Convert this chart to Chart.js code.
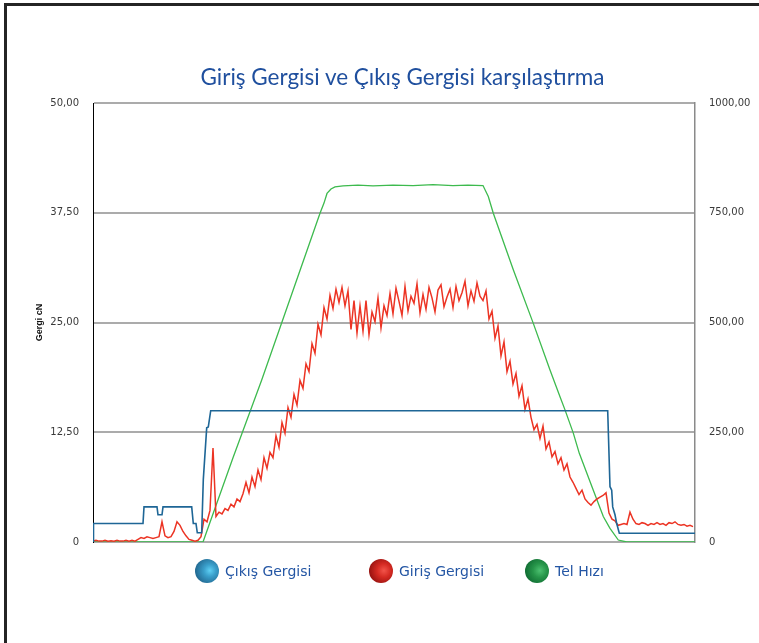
<!DOCTYPE html>
<html><head><meta charset="utf-8">
<script src="https://cdn.jsdelivr.net/npm/chart.js@4"></script>
<style>
html,body{margin:0;padding:0;background:#fff;width:759px;height:643px;overflow:hidden;}
#frame{position:absolute;left:4px;top:3px;width:900px;height:800px;border-left:3px solid #242424;border-top:3px solid #242424;}
#wrap{position:absolute;left:0;top:0;width:759px;height:643px;}
#title{position:absolute;left:0;width:805px;top:63px;height:28px;line-height:28px;text-align:center;font-family:Lato;font-size:22.5px;color:#1f4f9e;white-space:nowrap;}
.lg{position:absolute;top:559px;height:24px;line-height:24px;font-family:"DejaVu Sans";font-size:14px;color:#2456a4;white-space:nowrap;}
.sp{display:inline-block;width:24px;height:24px;border-radius:50%;vertical-align:top;margin-right:6px;}
</style></head><body>
<div id="frame"></div>
<div id="wrap"><canvas id="c" width="759" height="643"></canvas></div>
<div id="title">Giriş Gergisi ve Çıkış Gergisi karşılaştırma</div>
<div class="lg" style="left:195px"><span class="sp" style="background:radial-gradient(circle at 62% 48%,#5fd0f4 0%,#3aa0cc 30%,#256f98 70%,#1b5577 100%)"></span>Çıkış Gergisi</div>
<div class="lg" style="left:369px"><span class="sp" style="background:radial-gradient(circle at 62% 48%,#f2544a 0%,#d52a22 35%,#9e1512 72%,#6e0a09 100%)"></span>Giriş Gergisi</div>
<div class="lg" style="left:525px"><span class="sp" style="background:radial-gradient(circle at 62% 48%,#4cc070 0%,#27964a 35%,#137236 72%,#0b5326 100%)"></span>Tel Hızı</div>
<script>
// ---- data ----
const seriesNames = ["Çıkış Gergisi", "Giriş Gergisi", "Tel Hızı"];
const leftTicks = [0, 12.5, 25, 37.5, 50];
const rightTicks = [0, 250, 500, 750, 1000];

// Giriş Gergisi (cN) sampled every 3 time units from t=0
const redStep = 3;
const redValues = [
  0.1,0.2,0.1,0.1,0.2,0.1,0.15,0.1,0.2,0.1,
  0.1,0.2,0.1,0.2,0.1,0.3,0.5,0.4,0.6,0.5,
  0.4,0.5,0.6,2.3,0.7,0.5,0.6,1.2,2.3,1.9,
  1.2,0.7,0.3,0.2,0.1,0.2,0.6,2.6,2.3,3.6,
  10.7,2.9,3.4,3.2,3.8,3.6,4.3,4.0,4.9,4.6,
  5.5,6.8,5.6,7.4,6.3,8.2,7.1,9.6,8.4,10.2,
  9.6,12.1,10.8,13.6,12.4,15.3,14.2,16.8,15.6,18.4,
  17.5,20.3,19.4,22.6,21.5,24.8,23.6,26.7,25.4,28.1,
  26.6,28.8,27.3,29.0,26.9,28.6,24.2,27.5,23.8,26.9,
  24.0,27.5,23.6,26.2,25.1,27.8,24.4,26.9,25.8,28.3,
  26.0,28.9,27.4,25.8,29.1,26.3,28.0,27.2,29.4,26.1,
  28.2,26.5,29.0,27.8,26.2,28.7,29.3,26.8,27.9,28.8,
  26.7,29.1,27.5,28.4,29.7,26.9,28.6,27.4,29.5,28.0,
  27.5,28.6,25.4,26.3,23.2,24.6,21.2,22.8,19.4,20.6,
  18.0,19.2,16.6,17.8,15.1,16.3,14.2,12.8,13.4,11.8,
  13.2,10.6,11.4,9.7,10.3,8.9,9.6,8.2,8.9,7.4,
  6.8,6.1,5.4,5.9,4.9,4.5,4.2,4.6,4.9,5.1,
  5.3,5.6,3.3,2.6,2.4,1.9,2.0,2.1,2.0,3.4,
  2.6,2.1,2.0,2.2,2.1,1.9,2.1,2.0,2.2,2.0,
  2.1,1.9,2.2,2.1,2.3,2.0,1.9,2.0,1.8,1.9,
  1.75
];

// Çıkış Gergisi (cN)
const blueTimes  = [0, 0.5, 50, 51, 64, 65, 69, 70, 98.7, 100.3, 103, 104.3, 108.7, 110.3, 113.7, 115.3, 117.7, 514.7, 517, 518.7, 519.7, 522, 523.7, 526.3, 602];
const blueValues = [0, 2.1, 2.1, 4.0, 4.0, 3.1, 3.1, 4.0, 4.0, 2.1, 2.1, 1.05, 1.05, 7.1, 13.0, 13.1, 14.95, 14.95, 6.3, 5.9, 4.0, 3.1, 2.1, 1.0, 1.0];

// Tel Hızı (right axis)
const greenTimes  = [0, 110, 140, 168.7, 200, 227, 231, 234, 238, 242, 250, 265, 280, 300, 320, 340, 360, 375, 390, 395.3, 400.3, 420.3, 440.3, 457, 467, 472, 480.3, 486.3, 500.3, 510.3, 517, 525.3, 533.7, 602];
const greenValues = [0, 0, 192, 369, 573, 749, 772, 794, 804, 809, 811, 813, 811, 813, 812, 814, 812, 813, 812, 787, 749, 620, 498, 392, 331, 301, 248, 202, 118, 58, 31, 4.5, 0, 0];

const timeMax = 602;

// ---- chart ----
const fmt = v => v === 0 ? '0' : v.toFixed(2).replace('.', ',');
const pairs = (xs, ys) => ys.map((y, i) => ({x: xs[i], y}));

new Chart(document.getElementById('c'), {
  type: 'line',
  data: {
    datasets: [
      {label: seriesNames[0], data: pairs(blueTimes, blueValues), yAxisID: 'y', borderColor: '#1e6696', borderWidth: 1.6},
      {label: seriesNames[1], data: redValues.map((v, i) => ({x: i * redStep, y: v})), yAxisID: 'y', borderColor: '#ec3424', borderWidth: 1.5},
      {label: seriesNames[2], data: pairs(greenTimes, greenValues), yAxisID: 'y1', borderColor: '#3dba4e', borderWidth: 1.3}
    ]
  },
  options: {
    responsive: false,
    animation: false,
    devicePixelRatio: 1,
    elements: {point: {radius: 0}, line: {tension: 0}},
    layout: {padding: {top: 103, left: 30, right: 8, bottom: 101}},
    plugins: {
      legend: {display: false},
      tooltip: {enabled: false},
      title: {display: false}
    },
    scales: {
      x: {type: 'linear', min: 0, max: timeMax, display: false},
      y: {
        position: 'left', min: 0, max: 50,
        afterBuildTicks: s => { s.ticks = leftTicks.map(v => ({value: v})); },
        afterFit: s => { s.width = 63; },
        ticks: {callback: fmt, color: '#3a3a3a', font: {family: 'DejaVu Sans', size: 10}, padding: 14},
        grid: {color: '#ababab', lineWidth: 2, drawTicks: false},
        border: {color: '#000', width: 1},
        title: {display: true, text: 'Gergi cN', color: '#111', font: {family: 'Liberation Sans', size: 9, weight: 'bold'}, padding: {top: 4, bottom: 6}}
      },
      y1: {
        position: 'right', min: 0, max: 1000,
        afterBuildTicks: s => { s.ticks = rightTicks.map(v => ({value: v})); },
        afterFit: s => { s.width = 56; },
        ticks: {callback: fmt, color: '#3a3a3a', font: {family: 'DejaVu Sans', size: 10}, padding: 14},
        grid: {display: false, drawTicks: false},
        border: {color: '#8a8a8a', width: 1.5}
      }
    }
  }
});
</script>
</body></html>
